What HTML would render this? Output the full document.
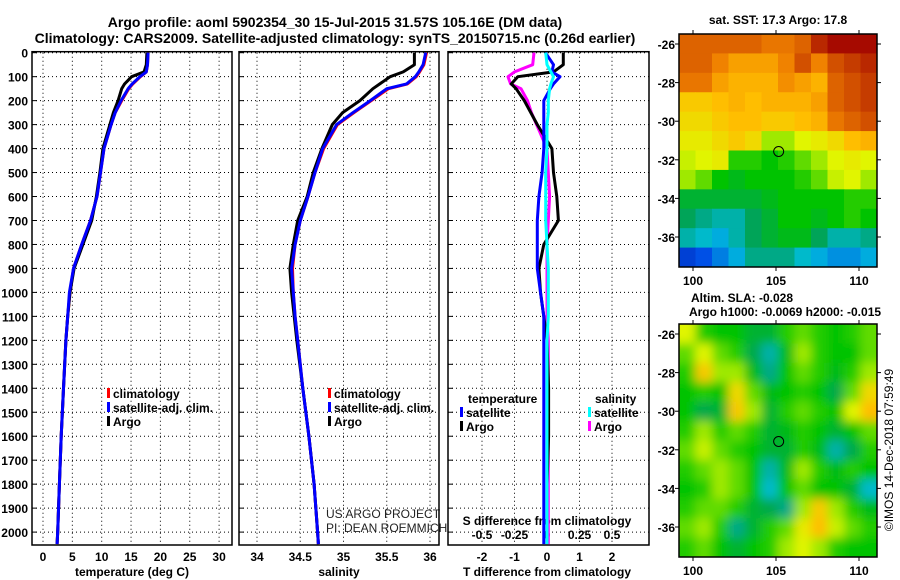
<!DOCTYPE html>
<html><head><meta charset="utf-8"><style>
html,body{margin:0;padding:0;background:#fff}
svg{display:block;font-family:"Liberation Sans",Arial,sans-serif}
.t{font-weight:bold;font-size:12px}
</style></head><body>
<svg id="c" width="900" height="580" viewBox="0 0 900 580" xmlns="http://www.w3.org/2000/svg">
<text x="335" y="27" text-anchor="middle" font-size="14" font-weight="bold">Argo profile: aoml 5902354_30 15-Jul-2015 31.57S 105.16E (DM data)</text>
<text x="335" y="43" text-anchor="middle" font-size="14" font-weight="bold">Climatology: CARS2009. Satellite-adjusted climatology: synTS_20150715.nc (0.26d earlier)</text>
<text x="778" y="24" text-anchor="middle" class="t">sat. SST: 17.3 Argo: 17.8</text>
<text x="742" y="302" text-anchor="middle" class="t">Altim. SLA: -0.028</text>
<text x="785" y="316" text-anchor="middle" class="t">Argo h1000: -0.0069 h2000: -0.015</text>
<text transform="translate(893,450) rotate(-90)" text-anchor="middle" font-size="12">©IMOS 14-Dec-2018 07:59:49</text>
<text x="326" y="518" font-size="12" fill="#222">US ARGO PROJECT</text>
<text x="326" y="532" font-size="12" fill="#222">PI: DEAN ROEMMICH</text>
<g id="g"></g>
</svg>
<script>
// ---- data ----
const depthTicks=[0,100,200,300,400,500,600,700,800,900,1000,1100,1200,1300,1400,1500,1600,1700,1800,1900,2000];
const tempTicks=[0,5,10,15,20,25,30];
const salTicks=[34,34.5,35,35.5,36];
const salTickLabels=["34","34.5","35","35.5","36"];
const tdTicks=[-2,-1,0,1,2];
const sdTicks=[-0.5,-0.25,0,0.25,0.5];
const sdTickLabels=["-0.5","-0.25","0","0.25","0.5"];
const depths=[0,50,80,100,130,150,200,250,300,400,500,600,700,800,900,1000,1100,1200,1400,1600,1800,2000,2050];
const tempArgo=[17.7,17.6,17.2,15.1,13.9,13.4,12.8,12.0,11.4,10.2,9.7,9.1,8.3,6.8,5.3,4.6,4.2,3.9,3.5,3.1,2.8,2.5,2.4];
const tempClim=[17.9,17.8,17.6,16.6,15.3,14.6,13.4,12.3,11.6,10.4,9.8,9.2,8.1,6.6,5.2,4.6,4.2,3.9,3.5,3.1,2.8,2.5,2.4];
const tempSat=[17.9,17.8,17.6,16.5,15.2,14.5,13.3,12.3,11.6,10.4,9.8,9.2,8.1,6.6,5.2,4.5,4.2,3.9,3.5,3.1,2.8,2.5,2.4];
const salArgo=[35.82,35.82,35.69,35.54,35.42,35.34,35.19,34.99,34.87,34.75,34.65,34.58,34.47,34.42,34.38,34.4,34.43,34.46,34.53,34.6,34.66,34.7,34.71];
const salClim=[35.96,35.93,35.88,35.84,35.74,35.52,35.32,35.12,34.93,34.77,34.67,34.59,34.5,34.44,34.41,34.42,34.44,34.47,34.53,34.6,34.66,34.7,34.71];
const salSat=[35.95,35.92,35.87,35.83,35.73,35.5,35.31,35.11,34.92,34.76,34.67,34.59,34.5,34.44,34.4,34.42,34.44,34.47,34.53,34.6,34.66,34.7,34.71];
const tdArgo=[0.5,0.5,0.2,-0.9,-1.1,-0.95,-0.7,-0.5,-0.3,0.15,0.2,0.3,0.35,-0.1,-0.25,-0.2,-0.1,0,0.05,0.05,0,0,0];
const tdSat=[-0.05,0.2,0.15,0.4,0.2,0.1,-0.1,-0.1,-0.1,-0.1,-0.15,-0.25,-0.3,-0.3,-0.3,-0.2,-0.1,-0.1,-0.1,-0.1,-0.1,-0.1,-0.1];
const sdArgo=[-0.1,-0.11,-0.25,-0.3,-0.28,-0.2,-0.15,-0.12,-0.08,0,0.01,0.02,0.01,0,0,0,0,0.01,0.01,0.01,0.01,0.01,0.01];
const sdSat=[-0.01,0,0.03,0.05,0.03,0.02,0.01,0.01,0,0,-0.01,-0.01,-0.01,0,0.01,0.01,0.01,0,0,0,0,0,0];
const latTicks=[-26,-28,-30,-32,-34,-36];
const lonTicks=[100,105,110];
const argoLon=105.16, argoLat=-31.57;
const sstGrid=[
[0.85,0.85,0.85,0.85,0.85,0.82,0.82,0.85,0.92,0.95,0.95,0.95],
[0.85,0.85,0.8,0.75,0.75,0.75,0.8,0.88,0.8,0.88,0.9,0.92],
[0.82,0.82,0.75,0.72,0.72,0.72,0.78,0.75,0.72,0.85,0.88,0.9],
[0.68,0.68,0.7,0.72,0.7,0.72,0.72,0.72,0.75,0.85,0.88,0.9],
[0.65,0.65,0.68,0.7,0.7,0.68,0.68,0.7,0.72,0.82,0.85,0.88],
[0.62,0.62,0.65,0.68,0.65,0.55,0.55,0.6,0.62,0.65,0.7,0.72],
[0.58,0.6,0.62,0.45,0.45,0.42,0.45,0.5,0.55,0.6,0.62,0.6],
[0.55,0.5,0.42,0.4,0.42,0.42,0.42,0.45,0.5,0.58,0.6,0.55],
[0.38,0.38,0.38,0.38,0.38,0.4,0.42,0.42,0.42,0.42,0.45,0.45],
[0.35,0.32,0.3,0.3,0.35,0.38,0.42,0.42,0.4,0.42,0.45,0.42],
[0.3,0.28,0.25,0.3,0.35,0.38,0.4,0.4,0.35,0.3,0.3,0.32],
[0.12,0.15,0.2,0.25,0.32,0.32,0.32,0.28,0.25,0.22,0.22,0.25]];
const slaGrid=[
[0.6,0.45,0.42,0.42,0.38,0.38,0.45,0.5,0.45,0.42,0.45,0.5],
[0.5,0.6,0.5,0.45,0.36,0.3,0.4,0.55,0.45,0.42,0.42,0.5],
[0.45,0.68,0.55,0.55,0.4,0.32,0.42,0.5,0.45,0.4,0.45,0.55],
[0.42,0.45,0.42,0.65,0.5,0.4,0.42,0.45,0.42,0.36,0.5,0.65],
[0.42,0.36,0.38,0.68,0.55,0.38,0.45,0.5,0.45,0.42,0.6,0.7],
[0.45,0.55,0.45,0.5,0.45,0.38,0.4,0.45,0.42,0.38,0.42,0.5],
[0.5,0.58,0.5,0.45,0.42,0.38,0.38,0.45,0.4,0.3,0.36,0.45],
[0.45,0.5,0.55,0.5,0.42,0.3,0.4,0.55,0.45,0.4,0.45,0.42],
[0.42,0.45,0.55,0.5,0.42,0.28,0.42,0.5,0.42,0.42,0.38,0.28],
[0.45,0.5,0.5,0.45,0.38,0.36,0.32,0.55,0.68,0.55,0.45,0.4],
[0.5,0.55,0.45,0.32,0.38,0.45,0.5,0.62,0.7,0.58,0.5,0.45],
[0.45,0.5,0.42,0.38,0.42,0.45,0.55,0.6,0.55,0.45,0.42,0.42]];

// ---- helpers ----
const NS="http://www.w3.org/2000/svg";
const G=document.getElementById('g');
function mk(tag,attrs,parent){const e=document.createElementNS(NS,tag);for(const k in attrs)e.setAttribute(k,attrs[k]);(parent||G).appendChild(e);return e;}
const PT=52.7,PB=545;
const yD=d=>PT+d*0.2397;
const xT=v=>43+v*5.87;
const xS=v=>257+(v-34)*86.5;
const xTD=v=>547+v*32.5;
const xSD=v=>547+v*130;
const panels=[{x0:32,x1:232,name:'temperature-panel'},{x0:239,x1:439,name:'salinity-panel'},{x0:448,x1:649,name:'difference-panel'}];
const vgrid=[tempTicks.map(xT),salTicks.map(xS),tdTicks.map(xTD)];
panels.forEach((p,i)=>{
  const g=mk('g',{});
  
  
  depthTicks.forEach(d=>{const l=mk('line',{x1:p.x0,x2:p.x1,y1:yD(d),y2:yD(d),stroke:'#000','stroke-width':1,'stroke-dasharray':'1 3'},g);
    
    mk('line',{x1:p.x0,x2:p.x0+5,y1:yD(d),y2:yD(d),stroke:'#000'},g);});
  vgrid[i].forEach(x=>{const l=mk('line',{x1:x,x2:x,y1:PT,y2:PB,stroke:'#000','stroke-dasharray':'1 3'},g);
    });
  const r=mk('rect',{x:p.x0,y:PT-1,width:p.x1-p.x0,height:PB-PT+1,fill:'none',stroke:'#000','stroke-width':1.5},g);
  
});
depthTicks.forEach(d=>{const t=mk('text',{x:28,y:yD(d)+5,'text-anchor':'end',class:'t'});t.textContent=d;
  });
function xlabels(ticks,labels,fx,y){ticks.forEach((v,i)=>{const t=mk('text',{x:fx(v),y:y,'text-anchor':'middle',class:'t'});t.textContent=labels[i];
  });}
xlabels(tempTicks,tempTicks.map(String),xT,561);
xlabels(salTicks,salTickLabels,xS,561);
xlabels(tdTicks,tdTicks.map(String),xTD,561);
xlabels(sdTicks,sdTickLabels,xSD,539);
[[132,'temperature (deg C)','temperature-axis-title'],[339,'salinity','salinity-axis-title'],[547,'T difference from climatology','t-diff-axis-title']].forEach(a=>{
  const t=mk('text',{x:a[0],y:576,'text-anchor':'middle',class:'t'});t.textContent=a[1];
  });
{const t=mk('text',{x:547,y:525,'text-anchor':'middle',class:'t'});t.textContent='S difference from climatology';
 }
function line(vals,fx,color,w,name){const pts=vals.map((v,i)=>fx(v).toFixed(1)+','+yD(depths[i]).toFixed(1)).join(' ');
  const l=mk('polyline',{points:pts,fill:'none',stroke:color,'stroke-width':w,'stroke-linejoin':'round'});
  }
line(tempClim,xT,'#f00',3,'temp-climatology-line');
line(tempArgo,xT,'#000',3,'temp-argo-line');
line(tempSat,xT,'#00f',3,'temp-satellite-line');
line(salClim,xS,'#f00',3,'sal-climatology-line');
line(salArgo,xS,'#000',3,'sal-argo-line');
line(salSat,xS,'#00f',3,'sal-satellite-line');
line(sdArgo,xSD,'#f0f',3,'sdiff-argo-line');
line(tdArgo,xTD,'#000',3,'tdiff-argo-line');
line(tdSat,xTD,'#00f',3,'tdiff-satellite-line');
line(sdSat,xSD,'#0ff',3,'sdiff-satellite-line');
function leg(x,y,color,text){const r=mk('rect',{x:x,y:y-10,width:3,height:10,fill:color});
  
  const t=mk('text',{x:x+6,y:y,class:'t'});t.textContent=text;
  }
[[133,'#f00','climatology'],[147,'#00f','satellite-adj. clim.'],[161,'#000','Argo']].forEach((a,i)=>{leg(107,398+i*14,a[1],a[2]);leg(328,398+i*14,a[1],a[2]);});
{const t=mk('text',{x:468,y:403,class:'t'});t.textContent='temperature';}
{const t=mk('text',{x:595,y:403,class:'t'});t.textContent='salinity';}
leg(460,417,'#00f','satellite');leg(460,431,'#000','Argo');
leg(588,417,'#0ff','satellite');leg(588,431,'#f0f','Argo');
const stops=[[0,[0,0,140]],[0.15,[0,80,230]],[0.27,[0,190,220]],[0.34,[0,160,100]],[0.42,[0,195,0]],[0.52,[120,225,0]],[0.6,[225,245,0]],[0.7,[255,190,0]],[0.8,[240,130,0]],[0.88,[210,80,0]],[0.96,[160,0,0]],[1,[130,0,0]]];
function cmap(v){for(let i=1;i<stops.length;i++){if(v<=stops[i][0]){const a=stops[i-1],b=stops[i],f=(v-a[0])/(b[0]-a[0]);
  return 'rgb('+a[1].map((c,k)=>Math.round(c+(b[1][k]-c)*f)).join(',')+')';}}return 'rgb(130,0,0)';}
const MX0=679,MX1=877;
const lonX=l=>693+(l-100)*16.6;
function map(grid,y0,y1,name,blur){
  const latY=l=>y0+10+(-26-l)*19.3;
  const g=mk('g',{});
  const defs=mk('defs',{},g);const cp=mk('clipPath',{id:'cp'+name},defs);mk('rect',{x:MX0,y:y0,width:MX1-MX0,height:y1-y0},cp);
  if(blur){const f=mk('filter',{id:'f'+name,x:'-10%',y:'-10%',width:'120%',height:'120%'},defs);mk('feGaussianBlur',{stdDeviation:5},f);}
  const inner=mk('g',{'clip-path':'url(#cp'+name+')'},g);
  mk('rect',{x:MX0,y:y0,width:MX1-MX0,height:y1-y0,fill:cmap(grid[0][0])},inner);
  const cells=mk('g',blur?{filter:'url(#f'+name+')'}:{},inner);
  const R=grid.length,C=grid[0].length,cw=(MX1-MX0)/C,ch=(y1-y0)/R;
  grid.forEach((row,r)=>row.forEach((v,c)=>{const e=mk('rect',{x:MX0+c*cw,y:y0+r*ch,width:cw+0.5,height:ch+0.5,fill:cmap(v)},cells);
    if(blur){e.setAttribute('x',MX0+c*cw-(c===0?10:0));e.setAttribute('y',y0+r*ch-(r===0?10:0));e.setAttribute('width',cw+0.5+(c===0||c===C-1?10:0));e.setAttribute('height',ch+0.5+(r===0||r===R-1?10:0));}
    }));
  const fr=mk('rect',{x:MX0,y:y0,width:MX1-MX0,height:y1-y0,fill:'none',stroke:'#000','stroke-width':1.5},g);
  
  latTicks.forEach(l=>{const y=latY(l);mk('line',{x1:MX0-4,x2:MX0,y1:y,y2:y,stroke:'#000'},g);mk('line',{x1:MX1,x2:MX1+4,y1:y,y2:y,stroke:'#000'},g);
    const t=mk('text',{x:MX0-4,y:y+5,'text-anchor':'end',class:'t'},g);t.textContent=l;});
  lonTicks.forEach(l=>{const x=lonX(l);mk('line',{x1:x,x2:x,y1:y1,y2:y1+4,stroke:'#000'},g);mk('line',{x1:x,x2:x,y1:y0-4,y2:y0,stroke:'#000'},g);
    const t=mk('text',{x:x,y:y1+18,'text-anchor':'middle',class:'t'},g);t.textContent=l;});
  const m=mk('circle',{cx:lonX(argoLon),cy:latY(argoLat),r:5,fill:'none',stroke:'#000','stroke-width':1},g);
  
}
map(sstGrid,34,267,'sst-map',false);
map(slaGrid,324,557,'sla-map',true);
</script>
</body></html>
